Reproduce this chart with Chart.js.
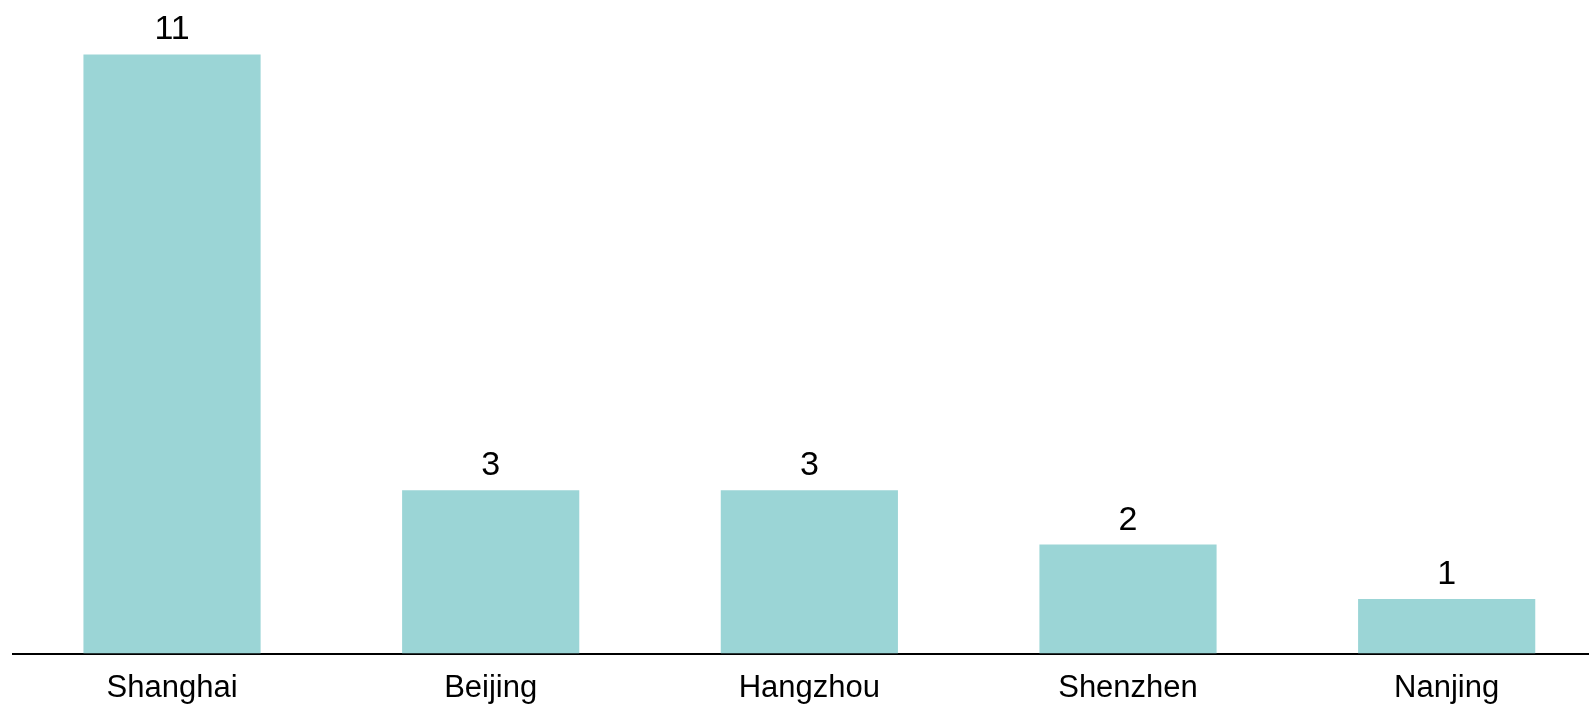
<!DOCTYPE html>
<html>
<head>
<meta charset="utf-8">
<script src="https://cdn.jsdelivr.net/npm/chart.js@4"></script>
<style>
  html, body { margin: 0; padding: 0; background: #fff; overflow: hidden; }
  #chart { display: block; }
</style>
</head>
<body>
<canvas id="chart" width="1606" height="704"></canvas>
<script>
// City counts
const cities = ["Shanghai", "Beijing", "Hangzhou", "Shenzhen", "Nanjing"];
const counts = [11, 3, 3, 2, 1];

const barColor = "#9bd5d6";
const fontFamily = "'Liberation Sans', Arial, sans-serif";

// Write each bar's value above it
const valueLabels = {
  id: "valueLabels",
  afterDatasetsDraw(chart) {
    const ctx = chart.ctx;
    const meta = chart.getDatasetMeta(0);
    ctx.save();
    ctx.fillStyle = "#000";
    ctx.font = "34px " + fontFamily;
    ctx.textAlign = "center";
    ctx.textBaseline = "alphabetic";
    meta.data.forEach((bar, i) => {
      ctx.fillText(String(counts[i]), bar.x, bar.y - 15);
    });
    ctx.restore();
  }
};

new Chart(document.getElementById("chart"), {
  type: "bar",
  data: {
    labels: cities,
    datasets: [{
      data: counts,
      backgroundColor: barColor,
      borderWidth: 0,
      categoryPercentage: 1,
      barPercentage: 0.556
    }]
  },
  options: {
    responsive: false,
    animation: false,
    devicePixelRatio: 1,
    layout: { padding: { left: 12.7, right: 0, top: 0, bottom: 0 } },
    plugins: {
      legend: { display: false },
      tooltip: { enabled: false }
    },
    scales: {
      x: {
        grid: { display: false, drawTicks: false },
        border: { display: true, color: "#000", width: 2 },
        ticks: { color: "#000", font: { family: fontFamily, size: 31 }, padding: 16.6 },
        // fixed strip under the bars for the city names
        afterFit(scale) { scale.height = 50.5; }
      },
      y: {
        display: false,
        min: 0,
        max: 12
      }
    }
  },
  plugins: [valueLabels]
});
</script>
</body>
</html>
